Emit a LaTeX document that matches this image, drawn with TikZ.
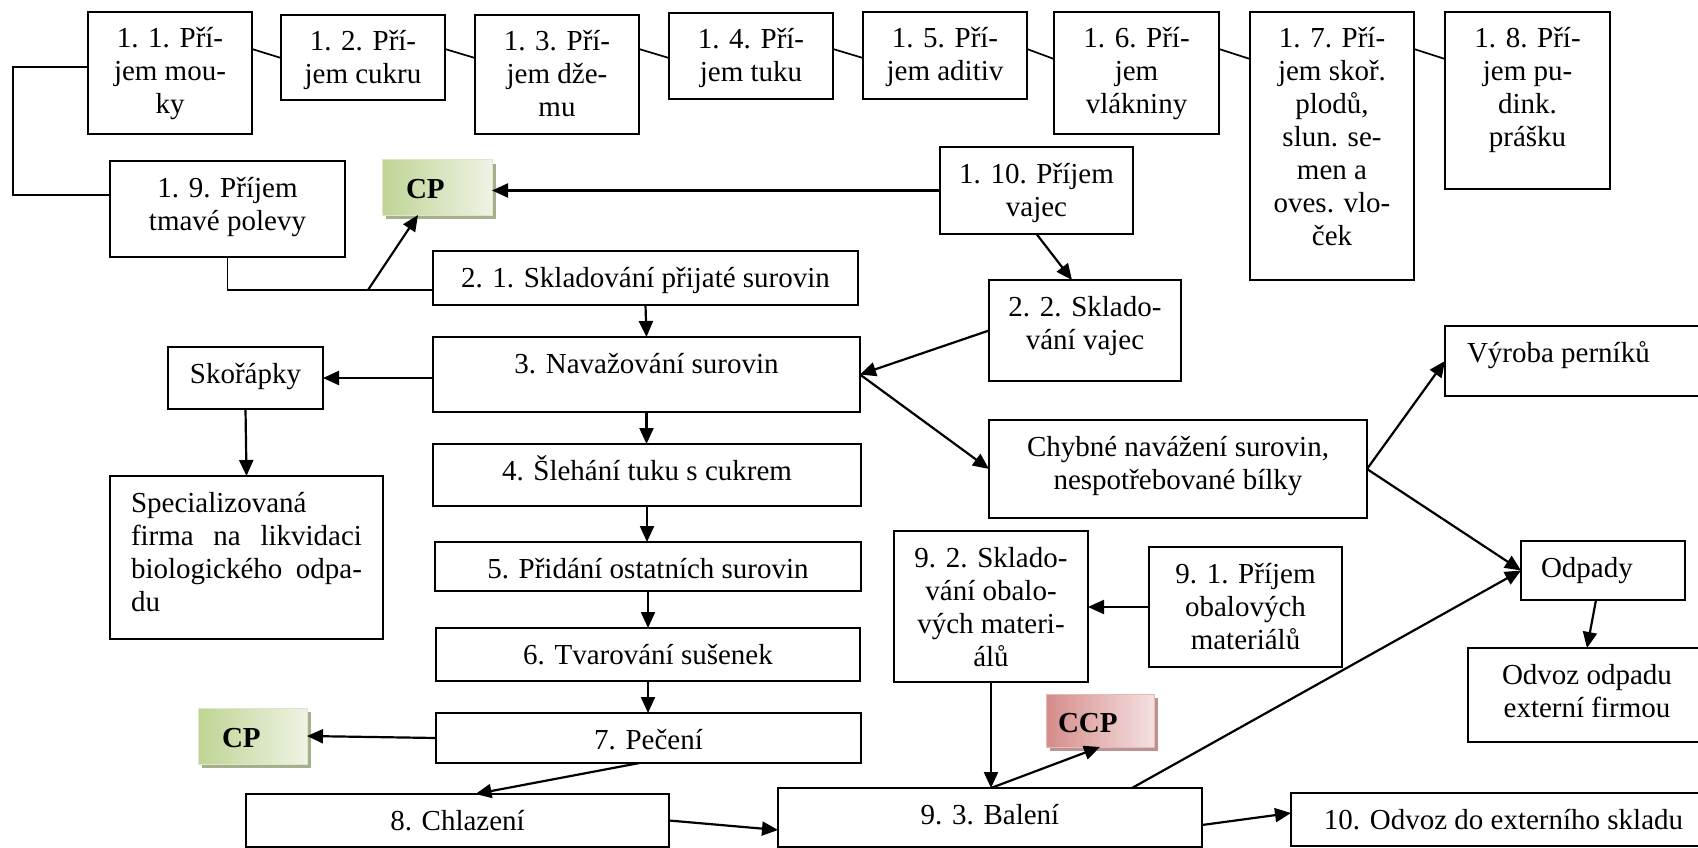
\documentclass[tikz,border=0pt]{standalone}
\usepackage{fontspec}
\setmainfont{Liberation Serif}
\usetikzlibrary{arrows.meta,calc,shadows}
\definecolor{cpA}{HTML}{BFD494}
\definecolor{cpB}{HTML}{EEF3E4}
\definecolor{cpS}{HTML}{A5AF8C}
\definecolor{cpD}{HTML}{DCE6C8}
\definecolor{ccpA}{HTML}{D48C8A}
\definecolor{ccpB}{HTML}{F4E0DF}
\definecolor{ccpS}{HTML}{B99492}
\definecolor{ccpD}{HTML}{E6B9B8}
\newcommand\tstrut{\rule{0pt}{28pt}}
\newcommand\bx[7]{\node[#6,anchor=north west,inner sep=0pt,outer sep=0pt] (#1) at (#2,#3) {\parbox[c][\dimexpr#5pt-#3pt\relax][t]{\dimexpr#4pt-#2pt\relax}{\vspace*{8pt}#7}};}
\tikzset{
  box/.style={draw,line width=1.6pt,fill=white},
  cpbox/.style={draw=cpD,line width=1pt,left color=cpA,right color=cpB,drop shadow={shadow xshift=4pt,shadow yshift=-4pt,fill=cpS,opacity=1},font=\fontsize{29}{33}\selectfont\bfseries},
  ccpbox/.style={draw=ccpD,line width=1pt,left color=ccpA,right color=ccpB,drop shadow={shadow xshift=4pt,shadow yshift=-4pt,fill=ccpS,opacity=1},font=\fontsize{29}{33}\selectfont\bfseries},
  ln/.style={line width=1.7pt},
  arr/.style={line width=2.2pt,-{Triangle[length=16pt,width=14pt]}}
}
\begin{document}
\begin{tikzpicture}[x=1pt,y=-1pt,font=\fontsize{29}{33}\selectfont]
\clip (0,0) rectangle (1698,848);
% top row
\bx{n11}{88}{12}{252}{134}{box}{\centering\tstrut 1. 1. Pří-\\jem mou-\\ky}
\bx{n12}{281}{15}{445}{100}{box}{\centering\tstrut 1. 2. Pří-\\jem cukru}
\bx{n13}{475}{15}{639}{134}{box}{\centering\tstrut 1. 3. Pří-\\jem dže-\\mu}
\bx{n14}{669}{13}{833}{99}{box}{\centering\tstrut 1. 4. Pří-\\jem tuku}
\bx{n15}{863}{12}{1027}{99}{box}{\centering\tstrut 1. 5. Pří-\\jem aditiv}
\bx{n16}{1054}{12}{1219}{134}{box}{\centering\tstrut 1. 6. Pří-\\jem\\vlákniny}
\bx{n17}{1250}{12}{1414}{280}{box}{\centering\tstrut 1. 7. Pří-\\jem skoř.\\plodů,\\slun. se-\\men a\\oves. vlo-\\ček}
\bx{n18}{1445}{12}{1610}{189}{box}{\centering\tstrut 1. 8. Pří-\\jem pu-\\dink.\\prášku}
% second row
\bx{n19}{110}{161}{345}{257}{box}{\centering\tstrut 1. 9. Příjem\\tmavé polevy}
\bx{cp1}{382}{160}{492}{215}{cpbox}{\raggedright\hspace*{24pt}\rule{0pt}{30pt}CP}
\bx{n110}{940}{147}{1133}{234}{box}{\centering\tstrut 1. 10. Příjem\\vajec}
\bx{n21}{433}{251}{858}{305}{box}{\centering\tstrut 2. 1. Skladování přijaté surovin}
\bx{n22}{989}{280}{1181}{381}{box}{\centering\tstrut 2. 2. Sklado-\\vání vajec}
\bx{n3}{433}{337}{860}{412}{box}{\centering\tstrut 3. Navažování surovin}
\bx{sk}{168}{347}{323}{409}{box}{\centering\tstrut Skořápky}
\bx{spec}{110}{476}{383}{639}{box}{\centering\tstrut\makebox[231pt][l]{Specializovaná}\\\makebox[231pt][s]{firma na likvidaci}\\\makebox[231pt][s]{biologického odpa-}\\\makebox[231pt][l]{du}}
\bx{n4}{433}{444}{861}{506}{box}{\centering\tstrut 4. Šlehání tuku s cukrem}
\bx{n5}{435}{542}{861}{591}{box}{\centering\tstrut 5. Přidání ostatních surovin}
\bx{n6}{436}{628}{860}{681}{box}{\centering\tstrut 6. Tvarování sušenek}
\bx{cp2}{198}{708}{307}{764}{cpbox}{\raggedright\hspace*{24pt}\rule{0pt}{31pt}CP}
\bx{n7}{436}{713}{861}{763}{box}{\centering\tstrut 7. Pečení}
\bx{n8}{246}{794}{669}{847}{box}{\centering\tstrut 8. Chlazení}
\bx{n93}{778}{788}{1202}{847}{box}{\centering\tstrut 9. 3. Balení}
\bx{n10}{1291}{793}{1716}{846}{box}{\centering\tstrut 10. Odvoz do externího skladu}
\bx{chyb}{989}{420}{1367}{518}{box}{\centering\tstrut Chybné navážení surovin,\\nespotřebované bílky}
\bx{vyr}{1445}{326}{1720}{396}{box}{\raggedright\hspace*{22pt}\tstrut Výroba perníků}
\bx{odp}{1521}{541}{1685}{600}{box}{\raggedright\hspace*{20pt}\tstrut Odpady}
\bx{odv}{1468}{648}{1706}{742}{box}{\centering\tstrut Odvoz odpadu\\externí firmou}
\bx{n92}{894}{531}{1088}{682}{box}{\centering\tstrut 9. 2. Sklado-\\vání obalo-\\vých materi-\\álů}
\bx{n91}{1149}{547}{1342}{667}{box}{\centering\tstrut 9. 1. Příjem\\obalových\\materiálů}
\bx{ccp}{1046}{694}{1154}{747}{ccpbox}{\raggedright\hspace*{12pt}\rule{0pt}{30pt}CCP}
% top row links
\draw[ln] ($(n11.north east)+(0,37)$) -- ($(n12.north west)+(0,43)$);
\draw[ln] ($(n12.north east)+(0,34)$) -- ($(n13.north west)+(0,43)$);
\draw[ln] ($(n13.north east)+(0,34)$) -- ($(n14.north west)+(0,45)$);
\draw[ln] ($(n14.north east)+(0,36)$) -- ($(n15.north west)+(0,46)$);
\draw[ln] ($(n15.north east)+(0,37)$) -- ($(n16.north west)+(0,47)$);
\draw[ln] ($(n16.north east)+(0,37)$) -- ($(n17.north west)+(0,47)$);
\draw[ln] ($(n17.north east)+(0,37)$) -- ($(n18.north west)+(0,47)$);
% bracket 1.1 - 1.9
\coordinate (b1) at (13,195);
\draw[ln] ($(n11.north west)+(0,55)$) -| (b1) -- ($(n19.north west)+(0,34)$);
% 1.9 to 2.1 and CP
\draw[ln] (n19.south) |- ($(n21.north west)+(0,39)$);
\coordinate (j2) at (368,290);
\draw[arr] (j2) -- ($(cp1.south west)+(36,0)$);
\draw[arr] (n110.west) -- (n110.west -| cp1.east);
\draw[arr] (n110.south) -- ($(n22.north west)+(83,0)$);
% main chain
\draw[arr] (n21.south) -- (n3.north);
\draw[arr] (n22.west) -- (n3.east);
\draw[arr] (n3.east) -- (chyb.west);
\draw[arr] (sk.east -| n3.west) -- (sk.east);
\draw[arr] (sk.south) -- (spec.north);
\draw[arr] (n3.south) -- (n3.south |- n4.north);
\draw[arr] (n4.south) -- (n4.south |- n5.north);
\draw[arr] (n5.south) -- (n5.south |- n6.north);
\draw[arr] (n6.south) -- (n6.south |- n7.north);
\draw[arr] (n7.west) -- (cp2.east);
\draw[arr] ($(n7.south)+(-9,0)$) -- ($(n8.north)+(18,0)$);
\draw[arr] (n8.east) -- ($(n93.north west)+(0,42)$);
\draw[arr] ($(n93.north east)+(0,37)$) -- ($(n10.north west)+(0,20)$);
% packaging
\draw[arr] (n91.west) -- (n91.west -| n92.east);
\draw[arr] (n92.south) -- (n92.south |- n93.north);
\draw[arr] (n92.south |- n93.north) -- (ccp.south);
\draw[arr] ($(n93.north west)+(354,0)$) -- (odp.west);
% waste
\draw[arr] (chyb.east) -- (vyr.west);
\draw[arr] (chyb.east) -- (odp.west);
\draw[arr] ($(odp.south)+(-7,0)$) -- ($(odv.north west)+(119,0)$);
\end{tikzpicture}
\end{document}
